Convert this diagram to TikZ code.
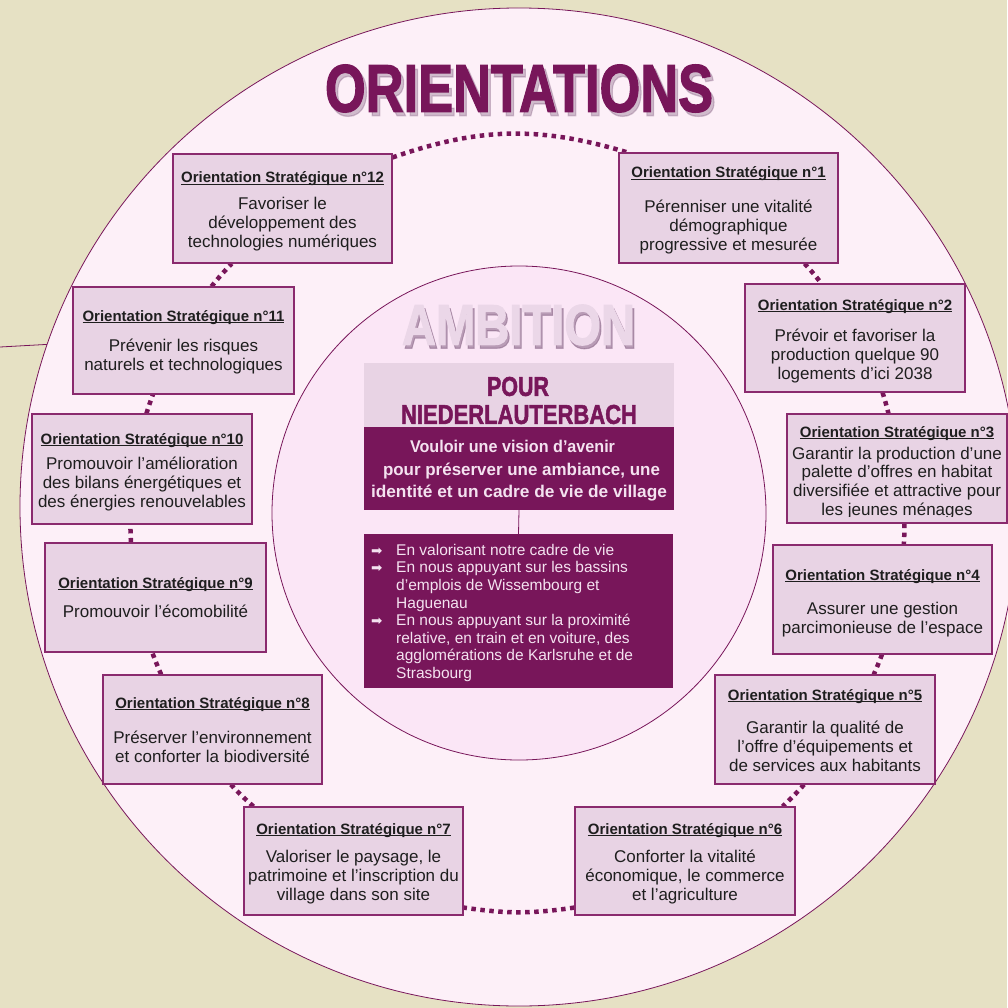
\documentclass[tikz,border=0pt]{standalone}
\usepackage{fontspec}
\setmainfont{Liberation Sans}
\newfontfamily\dejavu{DejaVu Sans}
\newfontfamily\heavy{Liberation Sans Bold}[FakeBold=2]
\usepackage{graphicx}
\usetikzlibrary{calc}
\definecolor{bgbeige}{HTML}{E6E1C4}
\definecolor{ringfill}{HTML}{FDF0F8}
\definecolor{innerfill}{HTML}{FBE6F6}
\definecolor{plum}{HTML}{78165A}
\definecolor{boxfill}{HTML}{E8D3E4}
\definecolor{boxline}{HTML}{8A2A6E}
\definecolor{paletext}{HTML}{F4E2F0}
\definecolor{ambfill}{HTML}{EBD7E8}
\definecolor{shadowcol}{HTML}{8E6C8C}
\definecolor{txt}{HTML}{1E1E1E}
\pgfdeclarelayer{bg}
\pgfdeclarelayer{links}
\pgfsetlayers{bg,links,main}
\newsavebox\ulbox
\newsavebox\fitbox
\newcommand\ul[1]{\sbox\ulbox{#1}\rlap{\rule[-2.3pt]{\wd\ulbox}{1.1pt}}\usebox\ulbox}
\newcommand\hfit[2]{\sbox\fitbox{#2}\pgfmathsetmacro\fitr{(#1)/\the\wd\fitbox}\scalebox{\fitr}[1]{\usebox\fitbox}}
\newcommand\dl{\rule{0pt}{13pt}}
\newcommand\dd{\rule[-5pt]{0pt}{5pt}}
\newcommand\bl{\rule{0pt}{12pt}}
\newcommand\bul{\makebox[25pt][l]{\dejavu\fontsize{13.5}{13.5}\selectfont ➡}}
\newcommand\ind{\hspace*{25pt}}
\tikzset{
  obox/.style={draw=boxline, line width=1.1pt, fill=boxfill, inner sep=0pt},
  otitle/.style={font=\fontsize{15}{18}\selectfont\bfseries, text=txt, inner sep=0pt, anchor=base},
  odesc/.style={font=\fontsize{17}{19}\selectfont, text=txt, align=center, inner sep=0pt, anchor=north},
  dots/.style={draw=plum, line width=4.5pt, dash pattern=on 4.5pt off 4.5pt},
  thinline/.style={draw=plum, line width=0.8pt},
  visline/.style={font=\fontsize{17}{20}\selectfont\bfseries, text=paletext, inner sep=0pt, anchor=base},
  bultxt/.style={font=\fontsize{15.5}{17.6}\selectfont, text=paletext, align=left, inner sep=0pt, anchor=north west},
  plain/.style={inner sep=0pt}
}
% #1 name, #2 x1, #3 x2, #4 y1, #5 y2, #6 title baseline, #7 title, #8 desc baseline, #9 desc
\newcommand\orbox[9]{%
  \node[obox, minimum width={(#3)-(#2)}, minimum height={(#5)-(#4)}] (#1) at ({((#2)+(#3))/2},{((#4)+(#5))/2}) {};
  \node[otitle] (#1t) at ({((#2)+(#3))/2},#6) {\ul{#7}};
  \node[odesc] (#1d) at ({((#2)+(#3))/2},{(#8)-13}) {\dl #9\dd};
}
\begin{document}
\begin{tikzpicture}[x=1pt,y=-1pt]
\useasboundingbox (0,0) rectangle (1007,1008);
\begin{pgfonlayer}{bg}
  \fill[bgbeige] (0,0) rectangle (1007,1008);
  \node[circle, thinline, fill=ringfill, minimum size=998pt, inner sep=0pt] (ring) at (519,507) {};
  \node[circle, thinline, fill=innerfill, minimum size=494pt, inner sep=0pt] (inner) at (519,513) {};
  \coordinate (stub) at (0,347);
  \draw[thinline] (stub) -- (ring.161.3);
\end{pgfonlayer}

% headings (with soft shadow)
\node[plain, text=shadowcol, opacity=0.4] (ttlsh) at (522,92.5) {\resizebox{388pt}{47pt}{\heavy ORIENTATIONS}};
\node[plain, text=plum] (ttl) at (519,88.5) {\resizebox{388pt}{47pt}{\heavy ORIENTATIONS}};

\node[plain, text=shadowcol, opacity=0.6] (ambsh) at (520.5,328.5) {\resizebox{233pt}{40pt}{\heavy AMBITION}};
\node[plain, text=ambfill] (amb) at (518.5,325) {\resizebox{233pt}{40pt}{\heavy AMBITION}};

% central boxes
\node[plain, fill=boxfill, minimum width=310pt, minimum height=64pt] (pourbox) at (519,395) {};
\node[plain, text=plum] (pour) at (518,386.5) {\resizebox{62pt}{19pt}{\heavy POUR}};
\node[plain, text=plum] (nied) at (519,414.5) {\resizebox{236pt}{19pt}{\heavy NIEDERLAUTERBACH}};

\node[plain, fill=plum, minimum width=310pt, minimum height=83pt] (vis) at (519,468.5) {};
\node[visline] (v1) at (512.5,452) {\hfit{205}{Vouloir une vision d’avenir}};
\node[visline] (v2) at (521.5,475.5) {\hfit{277}{pour préserver une ambiance, une}};
\node[visline] (v3) at (519,497.5) {\hfit{296}{identité et un cadre de vie de village}};

\node[plain, fill=plum, minimum width=309pt, minimum height=154pt] (bul) at (518.5,611) {};
\draw[thinline] (vis.south) -- (bul.north);
\node[bultxt] (bt) at (371,543) {\bl\bul En valorisant notre cadre de vie\\
\bul En nous appuyant sur les bassins\\
\ind d’emplois de Wissembourg et\\
\ind Haguenau\\
\bul En nous appuyant sur la proximité\\
\ind relative, en train et en voiture, des\\
\ind agglomérations de Karlsruhe et de\\
\ind Strasbourg};

% orientation boxes
\orbox{b12}{173}{392}{154}{263}{183}{Orientation Stratégique n°12}{209}{Favoriser le\\développement des\\technologies numériques}
\orbox{b1}{619}{838}{153}{263}{178}{Orientation Stratégique n°1}{212}{Pérenniser une vitalité\\démographique\\progressive et mesurée}
\orbox{b11}{73}{294}{287}{394}{321}{Orientation Stratégique n°11}{351}{Prévenir les risques\\naturels et technologiques}
\orbox{b2}{745}{965}{284}{392}{310}{Orientation Stratégique n°2}{341}{Prévoir et favoriser la\\production quelque 90\\logements d’ici 2038}
\orbox{b10}{32}{252}{414}{524}{444}{Orientation Stratégique n°10}{469}{Promouvoir l’amélioration\\des bilans énergétiques et\\des énergies renouvelables}
% box 3, its last line cut by the frame as in the original
\node[obox, minimum width=220pt, minimum height=109pt] (b3) at (897,468.5) {};
\node[otitle] (b3t) at (897,437) {\ul{Orientation Stratégique n°3}};
\begin{scope}
  \clip (787,414) rectangle (1007,516.5);
  \node[odesc, font=\fontsize{17}{18.7}\selectfont] (b3d) at (897,446) {\dl Garantir la production d’une\\palette d’offres en habitat\\diversifiée et attractive pour\\les jeunes ménages\dd};
\end{scope}
\orbox{b9}{45}{266}{543}{652}{588}{Orientation Stratégique n°9}{617}{Promouvoir l’écomobilité}
\orbox{b4}{773}{992}{545}{654}{580}{Orientation Stratégique n°4}{614}{Assurer une gestion\\parcimonieuse de l’espace}
\orbox{b8}{103}{322}{675}{784}{708}{Orientation Stratégique n°8}{743}{Préserver l’environnement\\et conforter la biodiversité}
\orbox{b5}{715}{935}{675}{784}{700}{Orientation Stratégique n°5}{733}{Garantir la qualité de\\l’offre d’équipements et\\de services aux habitants}
\orbox{b7}{244}{463}{807}{915}{834}{Orientation Stratégique n°7}{862}{Valoriser le paysage, le\\patrimoine et l’inscription du\\village dans son site}
\orbox{b6}{575}{795}{807}{915}{834}{Orientation Stratégique n°6}{862}{Conforter la vitalité\\économique, le commerce\\et l’agriculture}

% dotted links between orientations
\begin{pgfonlayer}{links}
  \draw[dots] ($(b12.north east)+(0,4)$) to[bend left=18] ($(b1.north west)+(9,0)$);
  \draw[dots] ($(b1.south east)+(-34,0)$) to[bend left=2] ($(b2.north west)+(77,0)$);
  \draw[dots] ($(b2.south east)+(-83,0)$) to[bend left=1.7] ($(b3.north west)+(102,0)$);
  \draw[dots] ($(b3.south west)+(118,0)$) to[bend left=1.5] ($(b4.north west)+(131.4,0)$);
  \draw[dots] ($(b4.south west)+(109.5,0)$) to[bend left=1.5] ($(b5.north west)+(159.3,0)$);
  \draw[dots] ($(b5.south west)+(89.6,0)$) to[bend left=2.6] ($(b6.north east)+(-13,0)$);
  \draw[dots] ($(b6.south west)+(0,-8)$) to[bend left=8.4] ($(b7.south east)+(0,-8)$);
  \draw[dots] ($(b7.north west)+(10,0)$) to[bend left=2.6] ($(b8.south west)+(128.4,0)$);
  \draw[dots] ($(b8.north west)+(58.7,0)$) to[bend left=1.5] ($(b9.south west)+(107.8,0)$);
  \draw[dots] ($(b9.north west)+(86.5,0)$) to[bend left=1.4] ($(b10.south west)+(99,0)$);
  \draw[dots] ($(b10.north west)+(115,0)$) to[bend left=1.7] ($(b11.south west)+(80.5,0)$);
  \draw[dots] ($(b11.north west)+(139,0)$) to[bend left=2.4] ($(b12.south west)+(59.3,0)$);
\end{pgfonlayer}
\end{tikzpicture}
\end{document}
